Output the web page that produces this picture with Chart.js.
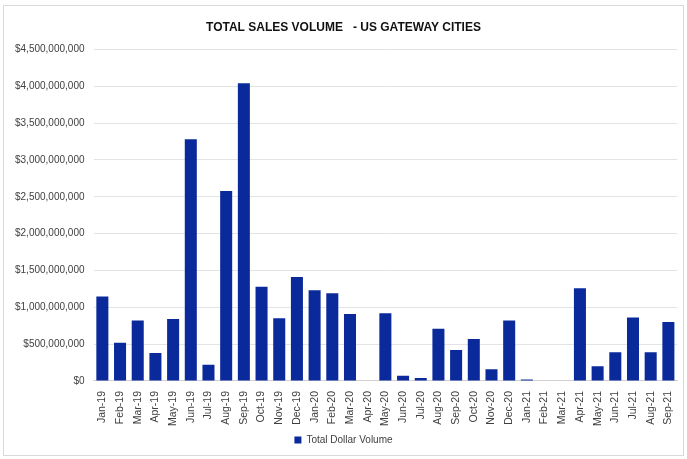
<!DOCTYPE html>
<html lang="en">
<head>
    <meta charset="UTF-8">
    <title>Total Sales Volume - US Gateway Cities</title>
    <script src="https://cdn.jsdelivr.net/npm/chart.js"></script>
    <style>
        html, body { margin: 0; padding: 0; background: #fff; }
        .frame {
            position: absolute; left: 3px; top: 5px; width: 681px; height: 451px;
            border: 1px solid #d9d9d9; box-sizing: border-box;
        }
    </style>
</head>
<body>
    <div class="frame"><canvas id="salesChart"></canvas></div>
    <script>
        const months = ['Jan-19','Feb-19','Mar-19','Apr-19','May-19','Jun-19','Jul-19','Aug-19','Sep-19','Oct-19','Nov-19','Dec-19',
                        'Jan-20','Feb-20','Mar-20','Apr-20','May-20','Jun-20','Jul-20','Aug-20','Sep-20','Oct-20','Nov-20','Dec-20',
                        'Jan-21','Feb-21','Mar-21','Apr-21','May-21','Jun-21','Jul-21','Aug-21','Sep-21'];
        const dollarVolume = [1145000000, 520000000, 820000000, 380000000, 840000000, 3280000000, 220000000, 2580000000, 4040000000,
                              1280000000, 850000000, 1410000000, 1230000000, 1190000000, 910000000, 5000000, 920000000, 70000000,
                              40000000, 710000000, 420000000, 570000000, 160000000, 820000000, 20000000, 0, 0, 1260000000,
                              200000000, 390000000, 860000000, 390000000, 800000000];
        const yTicks = [0, 500000000, 1000000000, 1500000000, 2000000000, 2500000000, 3000000000, 3500000000, 4000000000, 4500000000];

        const fontFamily = '"Liberation Sans Narrow", "Liberation Sans", sans-serif';
        const ctx = document.getElementById('salesChart').getContext('2d');
        new Chart(ctx, {
            type: 'bar',
            data: {
                labels: months,
                datasets: [{
                    label: 'Total Dollar Volume',
                    data: dollarVolume,
                    backgroundColor: '#0a2a9c',
                    barPercentage: 0.68,
                    categoryPercentage: 1.0
                }]
            },
            options: {
                responsive: true,
                maintainAspectRatio: false,
                animation: false,
                layout: { padding: { left: 2, right: 2, top: 0, bottom: 0 } },
                plugins: {
                    title: {
                        display: true,
                        text: 'TOTAL SALES VOLUME   - US GATEWAY CITIES',
                        color: '#111',
                        font: { family: fontFamily, size: 12, weight: 'bold' },
                        padding: { top: 14, bottom: 15 }
                    },
                    legend: {
                        position: 'bottom',
                        labels: {
                            boxWidth: 7, boxHeight: 7, color: '#404040', padding: 7,
                            font: { family: fontFamily, size: 10 }
                        }
                    },
                    tooltip: { enabled: false }
                },
                scales: {
                    y: {
                        min: 0, max: 4500000000,
                        afterBuildTicks: (axis) => { axis.ticks = yTicks.map(v => ({ value: v })); },
                        border: { display: false },
                        grid: { color: '#e3e3e3', drawTicks: false },
                        ticks: {
                            padding: 9, color: '#404040',
                            font: { family: fontFamily, size: 10 },
                            callback: (v) => '$' + Number(v).toLocaleString('en-US')
                        }
                    },
                    x: {
                        border: { color: '#d0d0d0' },
                        grid: { display: false },
                        ticks: {
                            maxRotation: 90, minRotation: 90, autoSkip: false, color: '#404040', padding: 2,
                            font: { family: fontFamily, size: 10.5 }
                        }
                    }
                }
            }
        });
    </script>
</body>
</html>
